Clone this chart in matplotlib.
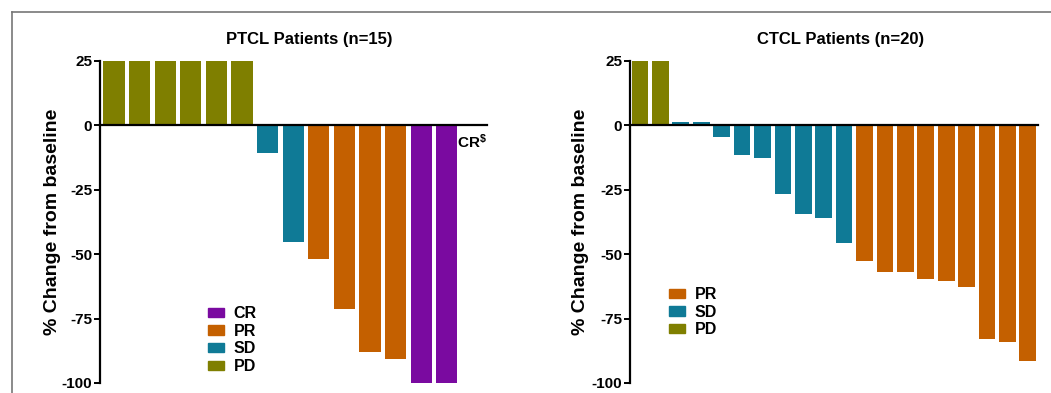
import matplotlib
matplotlib.use("Agg")
import matplotlib.pyplot as plt
from matplotlib.patches import Patch
from matplotlib.lines import Line2D

plt.rcParams['font.family'] = ['Liberation Sans', 'DejaVu Sans']
plt.rcParams['font.weight'] = 'bold'
plt.rcParams['mathtext.fontset'] = 'custom'
plt.rcParams['mathtext.bf'] = 'Liberation Sans:bold'
plt.rcParams['mathtext.default'] = 'bf'

# data
ptcl_values = [25, 25, 25, 25, 25, 25, -10.7, -45.2, -52, -71.3, -88, -90.7, -100, -100, 0]
ptcl_resp = ['PD'] * 6 + ['SD'] * 2 + ['PR'] * 4 + ['CR'] * 3
ctcl_values = [25, 25, 1.3, 1.3, -4.6, -11.3, -12.6, -26.5, -34.5, -35.8, -45.7,
               -52.5, -56.9, -56.9, -59.7, -60.5, -62.9, -82.9, -84.2, -91.4]
ctcl_resp = ['PD'] * 2 + ['SD'] * 9 + ['PR'] * 9
yticks = [25, 0, -25, -50, -75, -100]

colors = {'CR': '#7a0aa0', 'PR': '#c46000', 'SD': '#0f7a96', 'PD': '#7f7f00'}

W, H = 1051, 393
fig = plt.figure(figsize=(W / 100, H / 100), dpi=100)


def px_axes(x0, x1, y_top, y_bot):
    return fig.add_axes([x0 / W, (H - y_bot) / H, (x1 - x0) / W, (y_bot - y_top) / H])


def style(ax, title, xlim, title_x, label_x):
    ax.set_xlim(*xlim)
    ax.set_ylim(-100, 25)
    ax.set_yticks(yticks)
    ax.set_yticklabels([str(t) for t in yticks])
    ax.spines['top'].set_visible(False)
    ax.spines['right'].set_visible(False)
    ax.spines['bottom'].set_position(('data', 0))
    ax.spines['bottom'].set_linewidth(1.6)
    ax.spines['left'].set_linewidth(1.6)
    ax.set_xticks([])
    ax.tick_params(axis='y', length=4.5, width=1.4, labelsize=11, pad=1)
    ax.set_ylabel('% Change from baseline', fontsize=14, fontweight='bold')
    ax.yaxis.set_label_coords(label_x, 0.5)
    ax.set_title(title, fontsize=12, fontweight='bold', pad=12, x=title_x)


leg_kw = dict(frameon=False, loc='upper left', fontsize=11.5, handlelength=1.0,
              handleheight=0.5, labelspacing=0.17, handletextpad=0.6, borderaxespad=0,
              borderpad=0)

# PTCL
ax1 = px_axes(100, 487, 61, 383)
ax1.bar(range(len(ptcl_values)), ptcl_values, width=0.83,
        color=[colors[r] for r in ptcl_resp], zorder=1)
style(ax1, 'PTCL Patients (n=15)', (-0.55, 14.57), 0.54, -0.1)
ax1.text(14, -3, r'CR$^{\$}$', ha='center', va='top', fontsize=11, fontweight='bold')
h1 = [Patch(color=colors[k]) for k in ['CR', 'PR', 'SD', 'PD']]
ax1.legend(h1, ['CR', 'PR', 'SD', 'PD'],
           bbox_to_anchor=((208 - 100) / 387, (383 - 306) / 322), **leg_kw)

# CTCL
ax2 = px_axes(630, 1038, 61, 383)
ax2.bar(range(len(ctcl_values)), ctcl_values, width=0.82,
        color=[colors[r] for r in ctcl_resp], zorder=1)
style(ax2, 'CTCL Patients (n=20)', (-0.49, 19.5), 0.515, -0.1)
h2 = [Patch(color=colors[k]) for k in ['PR', 'SD', 'PD']]
ax2.legend(h2, ['PR', 'SD', 'PD'],
           bbox_to_anchor=((669 - 630) / 408, (383 - 287) / 322), **leg_kw)

# screenshot frame
fig.add_artist(Line2D([12 / W, 1], [1 - 12 / H] * 2, color='#777777', lw=1.2))
fig.add_artist(Line2D([12 / W] * 2, [0, 1 - 12 / H], color='#777777', lw=1.2))

fig.savefig('out.png', dpi=100)
